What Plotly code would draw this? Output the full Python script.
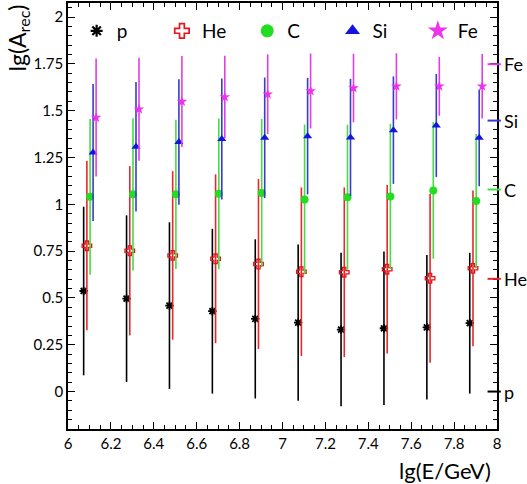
import plotly.graph_objects as go

# Energy bin centres, lg(E/GeV)
energy = [6.1, 6.3, 6.5, 6.7, 6.9, 7.1, 7.3, 7.5, 7.7, 7.9]

# Mean reconstructed lg(A) and its spread per primary
p_mean = [0.537, 0.496, 0.459, 0.429, 0.388, 0.368, 0.331, 0.338, 0.343, 0.365]
p_sig = [0.450, 0.445, 0.445, 0.440, 0.425, 0.417, 0.410, 0.410, 0.386, 0.376]
he_mean = [0.779, 0.752, 0.727, 0.709, 0.681, 0.640, 0.637, 0.653, 0.605, 0.658]
he_sig = [0.452, 0.452, 0.450, 0.451, 0.454, 0.450, 0.453, 0.450, 0.451, 0.416]
c_mean = [1.040, 1.053, 1.053, 1.056, 1.060, 1.026, 1.038, 1.042, 1.074, 1.017]
c_sig = [0.416, 0.406, 0.398, 0.402, 0.396, 0.400, 0.387, 0.388, 0.365, 0.358]
si_mean = [1.277, 1.307, 1.333, 1.349, 1.355, 1.364, 1.357, 1.396, 1.421, 1.355]
si_sig = [0.366, 0.346, 0.335, 0.323, 0.322, 0.311, 0.313, 0.287, 0.275, 0.258]
fe_mean = [1.463, 1.508, 1.549, 1.573, 1.588, 1.605, 1.621, 1.630, 1.630, 1.630]
fe_sig = [0.315, 0.275, 0.243, 0.220, 0.213, 0.200, 0.183, 0.177, 0.157, 0.172]

# True lg(A) of each primary, marked on the right axis
species = ["p", "He", "C", "Si", "Fe"]
true_lgA = [0.0, 0.602, 1.079, 1.447, 1.748]

FONT = "Lato"

# per-species style: horizontal shift inside a bin, marker, colours
styles = {
    "p":  dict(dx=-0.027, symbol="asterisk-open", size=7, lsize=10, mcol="black", ecol="black", lw=1.8),
    "He": dict(dx=-0.012, symbol="cross-open", size=8, lsize=12, mcol="#e8141c", ecol="#e8262b", lw=1.3),
    "C":  dict(dx=0.003, symbol="circle", size=8, lsize=13, mcol="#22dd22", ecol="#44dd44", lw=0),
    "Si": dict(dx=0.017, symbol="triangle-up", size=8, lsize=13, mcol="#1414e0", ecol="#3a3ad0", lw=0),
    "Fe": dict(dx=0.031, symbol="star", size=8, lsize=15, mcol="#ee33ee", ecol="#e040e0", lw=0),
}

series = {
    "p": (p_mean, p_sig),
    "He": (he_mean, he_sig),
    "C": (c_mean, c_sig),
    "Si": (si_mean, si_sig),
    "Fe": (fe_mean, fe_sig),
}

fig = go.Figure()

for name in species:
    mean, sig = series[name]
    st = styles[name]
    xs = [e + st["dx"] for e in energy]
    fig.add_trace(go.Scatter(
        x=xs, y=mean, mode="markers", showlegend=False,
        marker=dict(symbol=st["symbol"], size=st["size"], color=st["mcol"],
                    line=dict(color=st["mcol"], width=st["lw"])),
        error_y=dict(type="data", array=sig, visible=True, color=st["ecol"],
                     thickness=1.6, width=0),
    ))

# legend entries with larger symbols
for name in species:
    st = styles[name]
    fig.add_trace(go.Scatter(
        x=[None], y=[None], mode="markers", name=name,
        marker=dict(symbol=st["symbol"], size=st["lsize"], color=st["mcol"],
                    line=dict(color=st["mcol"], width=st["lw"] + (0.4 if st["lw"] else 0))),
    ))

# coloured marks and names of the true lg(A) values on the right edge
for name, val in zip(species, true_lgA):
    st = styles[name]
    fig.add_shape(type="line", xref="paper", yref="y", x0=0.978, x1=1.009,
                  y0=val, y1=val, line=dict(color=st["ecol"], width=2))
    fig.add_annotation(text=name, xref="paper", yref="y", x=1.012, y=val,
                       xanchor="left", yanchor="middle", showarrow=False,
                       font=dict(family=FONT, size=18, color="black"))

# axis titles
fig.add_annotation(text="lg(A<sub>rec</sub>)", xref="paper", yref="paper",
                   x=0, y=1.0, xshift=-50, xanchor="center", yanchor="top",
                   textangle=-90, showarrow=False,
                   font=dict(family=FONT, size=23, color="black"))
fig.add_annotation(text="lg(E/GeV)", xref="paper", yref="paper",
                   x=1.0, y=0, xshift=-4, yshift=-26, xanchor="right", yanchor="top",
                   showarrow=False, font=dict(family=FONT, size=22, color="black"))

axis_common = dict(
    showline=True, linecolor="black", linewidth=1.5, mirror="allticks",
    ticks="inside", ticklen=7, tickwidth=1.2, tickcolor="black",
    showgrid=False, zeroline=False,
    tickfont=dict(family=FONT, size=15, color="black"),
)

fig.update_xaxes(range=[6, 8],
                 tickvals=[6, 6.2, 6.4, 6.6, 6.8, 7, 7.2, 7.4, 7.6, 7.8, 8],
                 ticktext=["6", "6.2", "6.4", "6.6", "6.8", "7", "7.2", "7.4", "7.6", "7.8", "8"],
                 minor=dict(dtick=0.05, tick0=6, ticks="inside", ticklen=4, tickcolor="black", tickwidth=1.2),
                 **axis_common)
fig.update_yaxes(range=[-0.2, 2.075],
                 tickvals=[0, 0.25, 0.5, 0.75, 1, 1.25, 1.5, 1.75, 2],
                 ticktext=["0", "0.25", "0.5", "0.75", "1", "1.25", "1.5", "1.75", "2"],
                 minor=dict(dtick=0.05, tick0=0, ticks="inside", ticklen=4, tickcolor="black", tickwidth=1.2),
                 **axis_common)

fig.update_layout(
    width=527, height=484,
    margin=dict(l=68, r=30, t=3, b=55, autoexpand=False),
    paper_bgcolor="white", plot_bgcolor="white",
    font=dict(family=FONT, color="black"),
    legend=dict(orientation="h", xref="container", yref="container",
                x=0.1454, y=0.936, xanchor="left", yanchor="middle",
                entrywidth=40.3, entrywidthmode="pixels", itemwidth=30,
                bgcolor="rgba(0,0,0,0)", font=dict(family=FONT, size=19, color="black"),
                tracegroupgap=0),
)

fig.write_html("out.html")
